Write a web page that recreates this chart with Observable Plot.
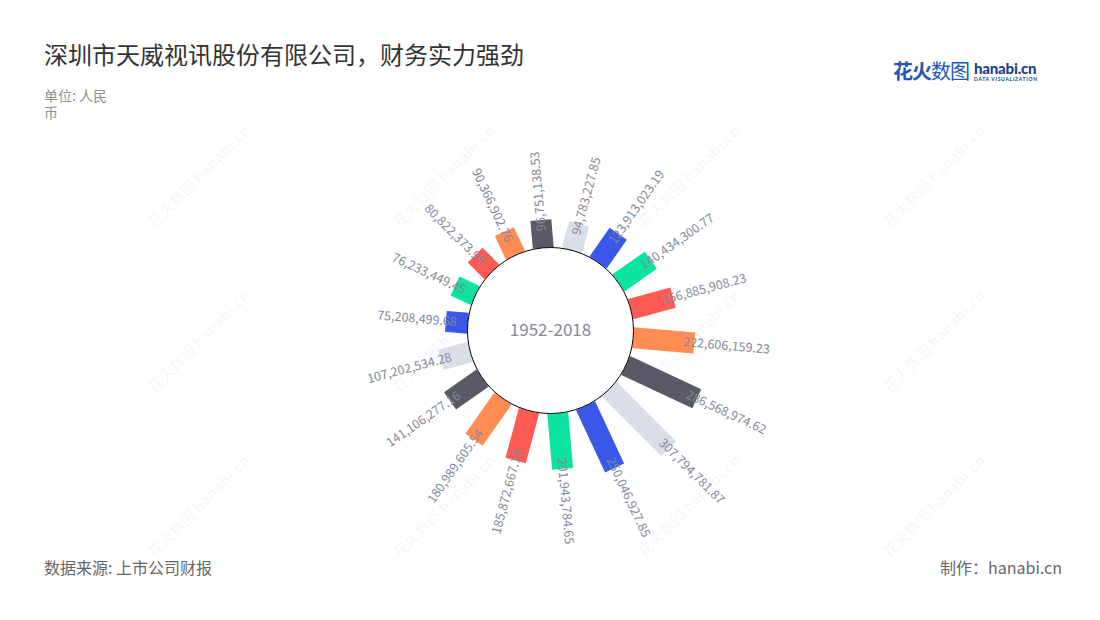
<!DOCTYPE html>
<html>
<head>
<meta charset="utf-8">
<script src="https://cdn.jsdelivr.net/npm/d3@7"></script>
<script src="https://cdn.jsdelivr.net/npm/@observablehq/plot@0.6"></script>
<style>
  html, body { margin: 0; padding: 0; background: #fff; }
  body { font-family: "Noto Sans CJK SC", "Noto Sans", sans-serif; }
  #page { position: relative; width: 1100px; height: 620px; overflow: hidden; }
  #title { position: absolute; left: 44px; top: 38px; font-size: 24px; color: #333; line-height: 32px; white-space: nowrap; }
  #subtitle { position: absolute; left: 44px; top: 87px; width: 72px; font-size: 14px; line-height: 17px; color: #8f8f8f; }
  #chart { position: absolute; left: 0; top: 110px; }
  #source { position: absolute; left: 44px; top: 555px; font-size: 16px; color: #666; line-height: 24px; }
  #credit { position: absolute; right: 38px; top: 555px; font-size: 16px; color: #666; line-height: 24px; }
  #logo { position: absolute; left: 893px; top: 58px; white-space: nowrap; }
  #logo .cn { font-size: 20px; color: #2356b8; font-weight: 700; line-height: 26px; display: inline-block; vertical-align: top; letter-spacing: -1px; }
  #logo .cn span { font-weight: 400; }
  #logo .en { display: inline-block; vertical-align: top; margin-left: 5px; margin-top: 3px; }
  #logo .en .h { font-family: "Lato", sans-serif; font-weight: 900; font-size: 15px; color: #1d3f8f; line-height: 15px; letter-spacing: -0.2px; }
  #logo .en .d { font-family: "Lato", sans-serif; font-size: 5px; font-weight: 700; color: #1d3f8f; letter-spacing: 0.7px; line-height: 7px; }
  .wm { position: absolute; transform: rotate(-45deg); font-size: 15px; font-weight: 700; color: rgba(0,0,0,0.035); white-space: nowrap; }
</style>
</head>
<body>
<div id="page">
  <div id="wms"></div>
  <div id="title">深圳市天威视讯股份有限公司，财务实力强劲</div>
  <div id="subtitle">单位: 人民币</div>
  <div id="logo"><div class="cn">花火<span>数图</span></div><div class="en"><div class="h">hanabi.cn</div><div class="d">DATA VISUALIZATION</div></div></div>
  <div id="chart"></div>
  <div id="source">数据来源: 上市公司财报</div>
  <div id="credit">制作：hanabi.cn</div>
</div>
<script>
// Data, clockwise starting just left of 12 o'clock
const values = [
  96751138.53, 94783227.85, 123913023.19, 140434300.77, 156885908.23, 222606159.23,
  286568974.62, 307794781.87, 250046927.85, 201943784.65, 185872667.18, 180989605.54,
  141106277.16, 107202534.28, 75208499.68, 76233449.45, 80822373.99, 90366902.76
];
const palette = ["#595A66", "#DADEE9", "#3A57E8", "#0DE3A0", "#FF5B55", "#FF8D53"];
const centerLabel = "1952-2018";

// watermarks (decoration)
const wmXs = [130, 375, 620, 865], wmYs = [165, 330, 495];
const wmBox = document.getElementById("wms");
for (const y of wmYs) for (const x of wmXs) {
  const d = document.createElement("div");
  d.className = "wm"; d.textContent = "花火数图 hanabi.cn";
  d.style.left = x + "px"; d.style.top = y + "px";
  wmBox.appendChild(d);
}

const W = 1100, H = 440;
const innerR = 83;
const angle = d3.scaleBand().domain(d3.range(values.length)).range([-15, 345]);
const radius = d3.scaleLinear().domain([0, 300e6]).range([85, 165]);
const fmt = d3.format(",.2f");
const rad = a => a * Math.PI / 180;

const data = values.map((v, i) => {
  const a = angle(i) + angle.bandwidth() / 2;
  const r = radius(v), rl = r - 11;
  return {
    v, i, a,
    color: palette[i % palette.length],
    x1: innerR * Math.sin(rad(a)), y1: -innerR * Math.cos(rad(a)),
    x2: r * Math.sin(rad(a)), y2: -r * Math.cos(rad(a)),
    lx: rl * Math.sin(rad(a)), ly: -rl * Math.cos(rad(a)),
    rot: a < 180 ? a - 90 : a - 270,
    right: a < 180,
    label: fmt(v)
  };
});

const labelStyle = {
  fontSize: 12.5,
  fill: "#85879B",
  fontFamily: "Noto Sans CJK SC, Noto Sans, sans-serif"
};

const chart = Plot.plot({
  width: W, height: H,
  margin: 0,
  x: {domain: [-W / 2, W / 2], range: [0, W], axis: null},
  y: {domain: [-H / 2, H / 2], range: [0, H], axis: null},
  color: {type: "identity"},
  style: {background: "transparent"},
  marks: [
    Plot.link(data, {x1: "x1", y1: "y1", x2: "x2", y2: "y2", stroke: "color", strokeWidth: 21, strokeLinecap: "butt"}),
    Plot.dot([0], {x: () => 0, y: () => 0, r: innerR, fill: "white", stroke: "black", strokeWidth: 1}),
    Plot.text([centerLabel], {x: () => 0, y: () => 0, text: d => d, fontSize: 17, fill: "#85879B", fontFamily: "Noto Sans CJK SC, Noto Sans, sans-serif"}),
    Plot.text(data.filter(d => d.right), {x: "lx", y: "ly", text: "label", rotate: "rot", textAnchor: "start", ...labelStyle}),
    Plot.text(data.filter(d => !d.right), {x: "lx", y: "ly", text: "label", rotate: "rot", textAnchor: "end", ...labelStyle})
  ]
});
document.getElementById("chart").appendChild(chart);
</script>
</body>
</html>
